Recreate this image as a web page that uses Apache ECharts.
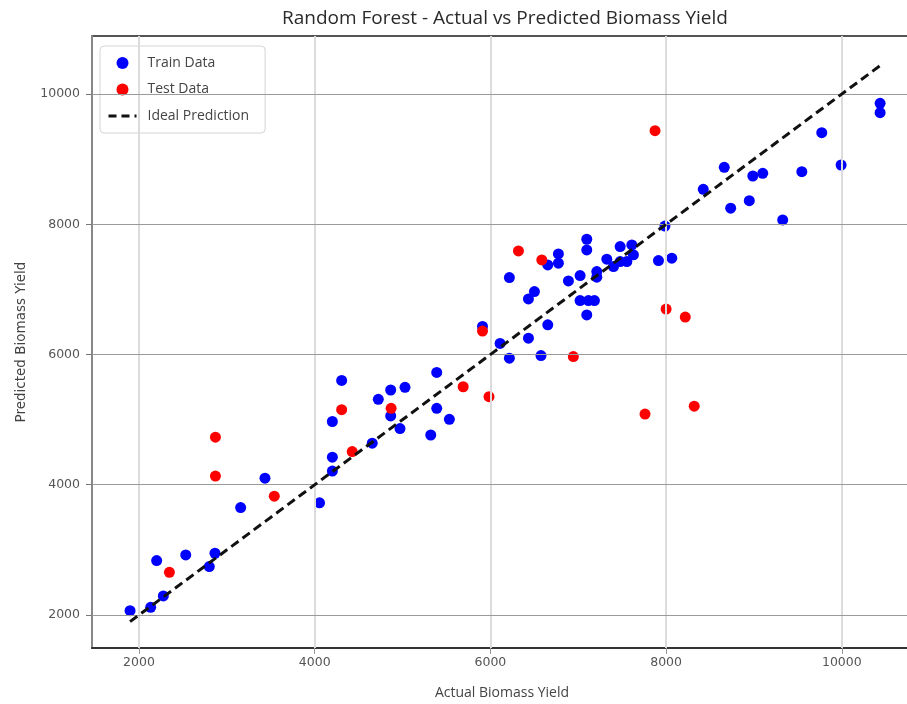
<!DOCTYPE html>
<html>
<head>
<meta charset="utf-8">
<script src="https://cdn.jsdelivr.net/npm/echarts@6/dist/echarts.min.js"></script>
<style>html,body{margin:0;padding:0;background:#fff;}#chart{width:907px;height:704px;}</style>
</head>
<body>
<div id="chart"></div>
<script>
const trainActual = [1898, 2133, 2277, 2201, 2532, 2800, 2865, 3157, 3434, 4055, 4201, 4307, 4201, 4201, 4655, 4724, 4865, 4865, 5028, 4971, 5389, 5389, 5533, 5321, 6110, 5910, 6216, 6433, 6501, 6653, 6433, 6216, 6576, 6653, 6774, 6774, 6888, 7021, 7021, 7116, 7184, 7097, 7097, 7097, 7211, 7211, 7325, 7401, 7477, 7477, 7553, 7610, 7628, 7913, 8065, 7987, 8423, 8662, 8735, 8947, 8987, 9100, 9327, 9545, 9772, 9992, 10436, 10436];
const trainPredicted = [2066, 2118, 2292, 2835, 2922, 2743, 2948, 3650, 4100, 3722, 4971, 5602, 4424, 4210, 4638, 5312, 5455, 5057, 5496, 4862, 5725, 5174, 5005, 4764, 6170, 6430, 7181, 6854, 6966, 6455, 6250, 5943, 5984, 7376, 7545, 7402, 7130, 7212, 6828, 6828, 6828, 6608, 7770, 7606, 7273, 7187, 7463, 7350, 7657, 7427, 7427, 7683, 7530, 7443, 7479, 7972, 8537, 8875, 8247, 8362, 8741, 8782, 8067, 8808, 9407, 8910, 9857, 9713];
const testActual = [2346, 2870, 2870, 3540, 4307, 4427, 4870, 5690, 5910, 5984, 6319, 6585, 6944, 7760, 7874, 8000, 8218, 8320];
const testPredicted = [2656, 4730, 4134, 3825, 5152, 4510, 5174, 5505, 6360, 5352, 7591, 7453, 5968, 5085, 9437, 6697, 6574, 5206];
const xTicks = [2000, 4000, 6000, 8000, 10000];
const yTicks = [2000, 4000, 6000, 8000, 10000];
const seriesNames = ['Train Data', 'Test Data', 'Ideal Prediction'];
const titleText = 'Random Forest - Actual vs Predicted Biomass Yield';
const xName = 'Actual Biomass Yield';
const yName = 'Predicted Biomass Yield';

const allActual = trainActual.concat(testActual);
const lo = Math.min.apply(null, allActual);
const hi = Math.max.apply(null, allActual);

const chart = echarts.init(document.getElementById('chart'), null, {renderer: 'canvas'});
const option = {
  animation: false,
  backgroundColor: '#ffffff',
  title: {
    text: titleText,
    left: 500, textAlign: 'center', top: 4,
    textStyle: {fontFamily: 'Open Sans', fontSize: 19, fontWeight: 'normal', color: '#2a2a2a'}
  },
  grid: {
    left: 92, top: 36, width: 820, bottom: 56,
    containLabel: false, outerBoundsMode: 'none',
    show: true, borderColor: '#555', borderWidth: 2, backgroundColor: 'transparent'
  },
  legend: {
    orient: 'vertical', left: 100, top: 46,
    data: [
      {name: seriesNames[0]},
      {name: seriesNames[1]},
      {name: seriesNames[2], itemStyle: {opacity: 0}, lineStyle: {color: '#111', width: 3, type: [8, 5]}}
    ],
    backgroundColor: '#fff', borderColor: '#d5d5d5', borderWidth: 1, borderRadius: 4,
    padding: [10, 16, 10, 7], itemGap: 12.5, itemWidth: 28, itemHeight: 12,
    textStyle: {fontFamily: 'Open Sans', fontSize: 14, color: '#444', padding: [0, 0, 0, 6]}
  },
  xAxis: {
    type: 'value', min: 1465, max: 10799,
    name: xName, nameLocation: 'middle', nameGap: 38,
    nameTextStyle: {fontFamily: 'Open Sans', fontSize: 14, color: '#444'},
    axisLine: {show: true, onZero: false, lineStyle: {color: '#333', width: 2}},
    axisTick: {show: true, length: 6, customValues: xTicks, lineStyle: {color: '#999'}},
    axisLabel: {customValues: xTicks, formatter: v => String(v), fontFamily: 'DejaVu Sans', fontSize: 12.5, color: '#555', margin: 8},
    splitLine: {show: false}
  },
  yAxis: {
    type: 'value', min: 1493, max: 10891,
    name: yName, nameLocation: 'middle', nameGap: 64, nameRotate: 90,
    nameTextStyle: {fontFamily: 'DejaVu Sans', fontSize: 13.5, color: '#444'},
    axisLine: {show: true, onZero: false, lineStyle: {color: '#888', width: 2}},
    axisTick: {show: true, length: 6, customValues: yTicks, lineStyle: {color: '#777'}},
    axisLabel: {customValues: yTicks, formatter: v => String(v), fontFamily: 'DejaVu Sans', fontSize: 12.5, color: '#555', margin: 12},
    splitLine: {show: false}
  },
  series: [
    {
      name: 'grid', type: 'scatter', data: [], z: 0, silent: true,
      markLine: {
        silent: true, symbol: 'none', label: {show: false}, animation: false,
        data: xTicks.map(v => ({xAxis: v, lineStyle: {color: '#dcdcdc', width: 2, type: 'solid'}}))
          .concat(yTicks.map(v => ({yAxis: v, lineStyle: {color: '#9a9a9a', width: 1, type: 'solid'}})))
      }
    },
    {
      name: seriesNames[0], type: 'scatter', symbol: 'circle', symbolSize: 11, z: 3,
      itemStyle: {color: '#0000ff', opacity: 1},
      data: trainActual.map((v, i) => [v, trainPredicted[i]])
    },
    {
      name: seriesNames[1], type: 'scatter', symbol: 'circle', symbolSize: 11, z: 4,
      itemStyle: {color: '#ff0000', opacity: 1},
      data: testActual.map((v, i) => [v, testPredicted[i]])
    },
    {
      name: seriesNames[2], type: 'line', symbol: 'none', showSymbol: false, z: 5,
      lineStyle: {color: '#111', width: 3, type: [9, 5]},
      itemStyle: {color: '#111'},
      data: [[lo, lo], [hi, hi]]
    }
  ]
};
chart.setOption(option);
</script>
</body>
</html>
